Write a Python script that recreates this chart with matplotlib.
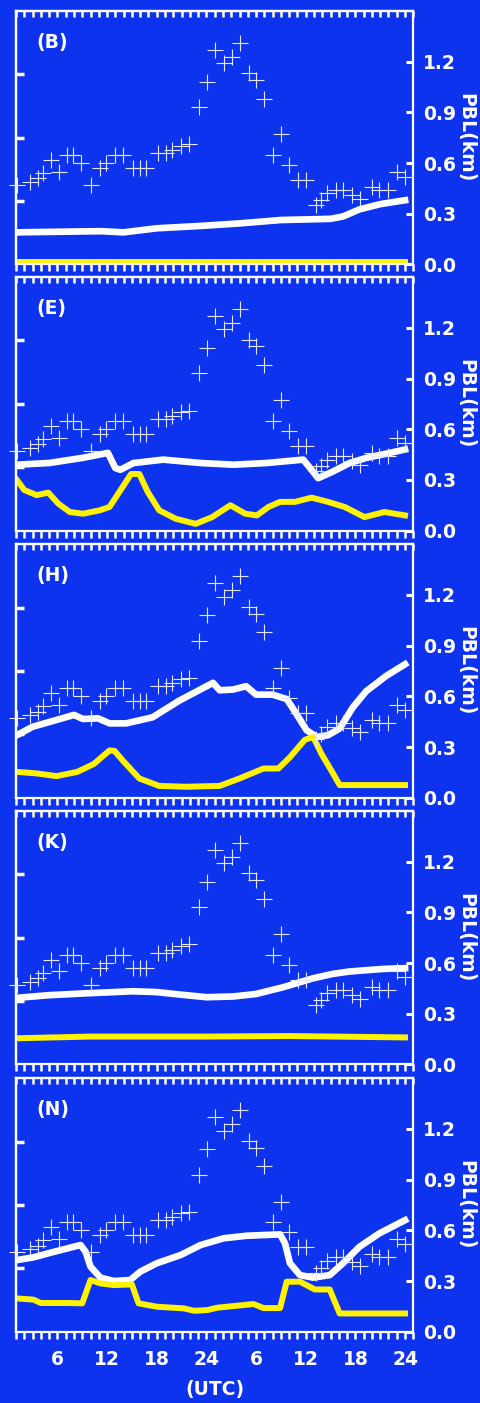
import matplotlib
matplotlib.use("Agg")
import matplotlib.pyplot as plt
from matplotlib.ticker import FixedLocator, MultipleLocator

# ── Observed PBL height (same in every panel) ─────────────────────────────
obs_hour = [1.1, 2.7, 3.7, 4.2, 5.2, 6.2, 7.2, 7.9, 8.9, 10.1, 11.2, 11.9,
            13.0, 13.9, 15.1, 16.0, 16.7, 18.1, 19.1, 19.9, 20.9, 21.9,
            23.1, 24.1, 25.1, 26.1, 27.1, 28.0, 29.1, 30.0, 31.0, 32.0,
            33.0, 34.0, 35.1, 36.0, 37.2, 37.8, 38.6, 39.6, 40.5, 41.6,
            42.6, 44.0, 44.8, 45.9, 47.0, 48.0]
obs_pbl = [0.47, 0.49, 0.51, 0.54, 0.62, 0.55, 0.65, 0.65, 0.60, 0.47, 0.57,
           0.60, 0.65, 0.65, 0.57, 0.57, 0.57, 0.66, 0.66, 0.68, 0.70, 0.71,
           0.93, 1.08, 1.27, 1.19, 1.23, 1.31, 1.13, 1.09, 0.98, 0.65,
           0.77, 0.59, 0.50, 0.50, 0.35, 0.38, 0.42, 0.44, 0.44, 0.41,
           0.39, 0.46, 0.44, 0.44, 0.55, 0.52]

# ── Modelled PBL height per scheme (white and yellow curves) ──────────────
panel_names = ["(B)", "(E)", "(H)", "(K)", "(N)"]

b_white_h = [1.1, 11.2, 14.0, 18.0, 23.3, 28.0, 33.0, 39.0, 40.5, 42.5, 45.0, 48.0]
b_white_v = [0.19, 0.197, 0.19, 0.214, 0.228, 0.243, 0.263, 0.27, 0.284, 0.326, 0.357, 0.38]
b_yellow_h = [1.1, 48.0]
b_yellow_v = [0.012, 0.012]

e_white_h = [1.1, 5.0, 9.0, 12.1, 13.0, 13.6, 15.2, 18.8, 23.3, 27.3, 31.3,
             35.7, 36.7, 37.5, 39.3, 41.3, 43.3, 45.7, 48.0]
e_white_v = [0.39, 0.40, 0.43, 0.46, 0.37, 0.36, 0.40, 0.42, 0.40, 0.39, 0.40,
             0.42, 0.36, 0.31, 0.35, 0.40, 0.43, 0.455, 0.48]
e_yellow_h = [1.1, 2.0, 3.5, 4.9, 6.1, 7.5, 9.1, 11.1, 12.3, 13.9, 14.9, 15.9,
              16.9, 18.3, 20.3, 22.7, 24.7, 26.9, 28.7, 30.1, 31.5, 32.9,
              34.7, 36.7, 38.7, 40.7, 43.1, 45.5, 48.0]
e_yellow_v = [0.30, 0.24, 0.21, 0.225, 0.16, 0.11, 0.10, 0.12, 0.14, 0.26, 0.335,
              0.335, 0.23, 0.12, 0.07, 0.04, 0.08, 0.15, 0.10, 0.09, 0.14,
              0.17, 0.17, 0.195, 0.17, 0.14, 0.08, 0.11, 0.09]

h_white_h = [1.1, 3.0, 5.5, 8.0, 9.1, 10.9, 12.3, 14.3, 17.5, 20.7, 24.8, 25.6,
             27.2, 28.8, 30.0, 32.0, 33.7, 34.5, 36.1, 37.3, 38.7, 40.1,
             41.7, 43.3, 45.7, 48.0]
h_white_v = [0.37, 0.42, 0.455, 0.49, 0.466, 0.47, 0.44, 0.44, 0.476, 0.574,
             0.68, 0.636, 0.64, 0.66, 0.61, 0.61, 0.584, 0.525, 0.40, 0.36,
             0.37, 0.41, 0.535, 0.63, 0.72, 0.79]
h_yellow_h = [1.1, 3.5, 5.9, 8.4, 10.4, 12.3, 12.9, 13.9, 15.9, 18.3, 21.5,
              25.6, 28.0, 30.9, 32.7, 34.1, 35.9, 36.9, 37.9, 39.3, 40.1, 48.0]
h_yellow_v = [0.153, 0.144, 0.128, 0.153, 0.20, 0.28, 0.277, 0.22, 0.114, 0.07,
              0.065, 0.07, 0.114, 0.173, 0.173, 0.24, 0.343, 0.36, 0.26, 0.144,
              0.075, 0.075]

k_white_h = [1.1, 5.0, 9.1, 15.1, 18.0, 21.1, 24.0, 27.2, 30.0, 33.2, 36.9,
             39.3, 41.3, 45.3, 48.0]
k_white_v = [0.394, 0.41, 0.42, 0.433, 0.428, 0.412, 0.398, 0.402, 0.417,
             0.456, 0.51, 0.536, 0.55, 0.565, 0.57]
k_yellow_h = [1.1, 10.0, 24.0, 34.0, 48.0]
k_yellow_v = [0.155, 0.165, 0.165, 0.168, 0.16]

n_white_h = [1.1, 3.1, 5.2, 7.2, 8.8, 9.4, 10.0, 11.2, 12.8, 14.8, 16.0, 18.0,
             20.9, 23.3, 26.1, 28.9, 32.9, 33.5, 34.1, 35.3, 36.9, 38.9,
             40.5, 42.5, 44.9, 48.0]
n_white_v = [0.424, 0.44, 0.468, 0.493, 0.513, 0.474, 0.385, 0.32, 0.30, 0.306,
             0.355, 0.405, 0.454, 0.513, 0.553, 0.568, 0.576, 0.523, 0.405,
             0.335, 0.32, 0.335, 0.405, 0.503, 0.582, 0.66]
n_yellow_h = [1.1, 3.1, 4.0, 7.2, 9.0, 10.0, 11.2, 12.8, 15.0, 15.8, 18.0,
              21.3, 22.5, 24.1, 25.3, 27.3, 29.7, 30.9, 32.9, 33.7, 35.3,
              37.1, 38.9, 40.1, 43.3, 48.0]
n_yellow_v = [0.197, 0.19, 0.17, 0.17, 0.168, 0.306, 0.286, 0.276, 0.28, 0.168,
              0.148, 0.138, 0.124, 0.128, 0.142, 0.152, 0.164, 0.14, 0.14,
              0.296, 0.296, 0.25, 0.25, 0.108, 0.108, 0.108]

white_h = [b_white_h, e_white_h, h_white_h, k_white_h, n_white_h]
white_v = [b_white_v, e_white_v, h_white_v, k_white_v, n_white_v]
yellow_h = [b_yellow_h, e_yellow_h, h_yellow_h, k_yellow_h, n_yellow_h]
yellow_v = [b_yellow_v, e_yellow_v, h_yellow_v, k_yellow_v, n_yellow_v]

hour_ticks = [6, 12, 18, 24, 30, 36, 42, 48]
hour_labels = ["6", "12", "18", "24", "6", "12", "18", "24"]
pbl_ticks = [0.0, 0.3, 0.6, 0.9, 1.2]

BLUE = "#0d33ee"
YELLOW = "#fff200"

plt.rcParams["font.family"] = "DejaVu Sans"
plt.rcParams["font.weight"] = "bold"

fig = plt.figure(figsize=(4.81, 14.03), dpi=100, facecolor=BLUE)

left, width, height = 0.0333, 0.826, 0.1807
bottoms = [0.8115, 0.6218, 0.4314, 0.2413, 0.0508]

for i, name in enumerate(panel_names):
    ax = fig.add_axes([left, bottoms[i], width, height])
    ax.set_facecolor(BLUE)

    ax.plot(white_h[i], white_v[i], color="white", lw=4.8,
            solid_joinstyle="round", zorder=2)
    ax.plot(yellow_h[i], yellow_v[i], color=YELLOW, lw=4.3,
            solid_joinstyle="round", zorder=2.5)
    ax.plot(obs_hour, obs_pbl, linestyle="none", marker="+", ms=12,
            mew=0.8, color="#e6eaff", zorder=3, clip_on=False)

    ax.set_xlim(1, 49)
    ax.set_ylim(0, 1.5)

    for sp in ax.spines.values():
        sp.set_color("white")
        sp.set_linewidth(1.6)

    # right-hand PBL axis
    ax.yaxis.tick_right()
    ax.yaxis.set_label_position("right")
    ax.set_yticks(pbl_ticks)
    ax.set_yticklabels([f"{t:.1f}" for t in pbl_ticks])
    ax.tick_params(axis="y", direction="in", length=5, width=2.2,
                   colors="white", pad=7, labelsize=13.5)
    ax.set_ylabel("PBL(km)", color="white", fontsize=13.5, rotation=270,
                  labelpad=14, fontweight="bold")

    # left-hand ticks on a 0-4 scale, unlabeled
    sec_y = ax.secondary_yaxis("left", functions=(lambda v: v / 0.375,
                                                  lambda t: t * 0.375))
    sec_y.set_yticks([1, 2, 3])
    sec_y.tick_params(direction="in", length=6, width=2.5, colors="white",
                      labelleft=False)
    sec_y.spines["left"].set_color("white")
    sec_y.spines["left"].set_linewidth(1.6)

    # hourly ticks: outward at the bottom, inward along the top
    ax.xaxis.set_major_locator(FixedLocator(hour_ticks))
    ax.xaxis.set_minor_locator(MultipleLocator(1))
    ax.tick_params(axis="x", which="both", direction="out", length=5,
                   width=1.8, colors="white", top=False, bottom=True,
                   pad=8, labelsize=13.5)
    if i == len(panel_names) - 1:
        ax.set_xticklabels(hour_labels)
        ax.set_xlabel("(UTC)", color="white", fontsize=13.5,
                      fontweight="bold", labelpad=8)
    else:
        ax.tick_params(axis="x", labelbottom=False)

    sec_x = ax.secondary_xaxis("top")
    sec_x.xaxis.set_major_locator(MultipleLocator(1))
    sec_x.tick_params(direction="in", length=4, width=1.8, colors="white",
                      labeltop=False)
    sec_x.spines["top"].set_color("white")
    sec_x.spines["top"].set_linewidth(1.6)

    ax.text(0.05, 0.875, name, transform=ax.transAxes, color="white",
            fontsize=13.5, fontweight="bold", va="center", ha="left")

fig.savefig("out.png", dpi=100, facecolor=BLUE)
